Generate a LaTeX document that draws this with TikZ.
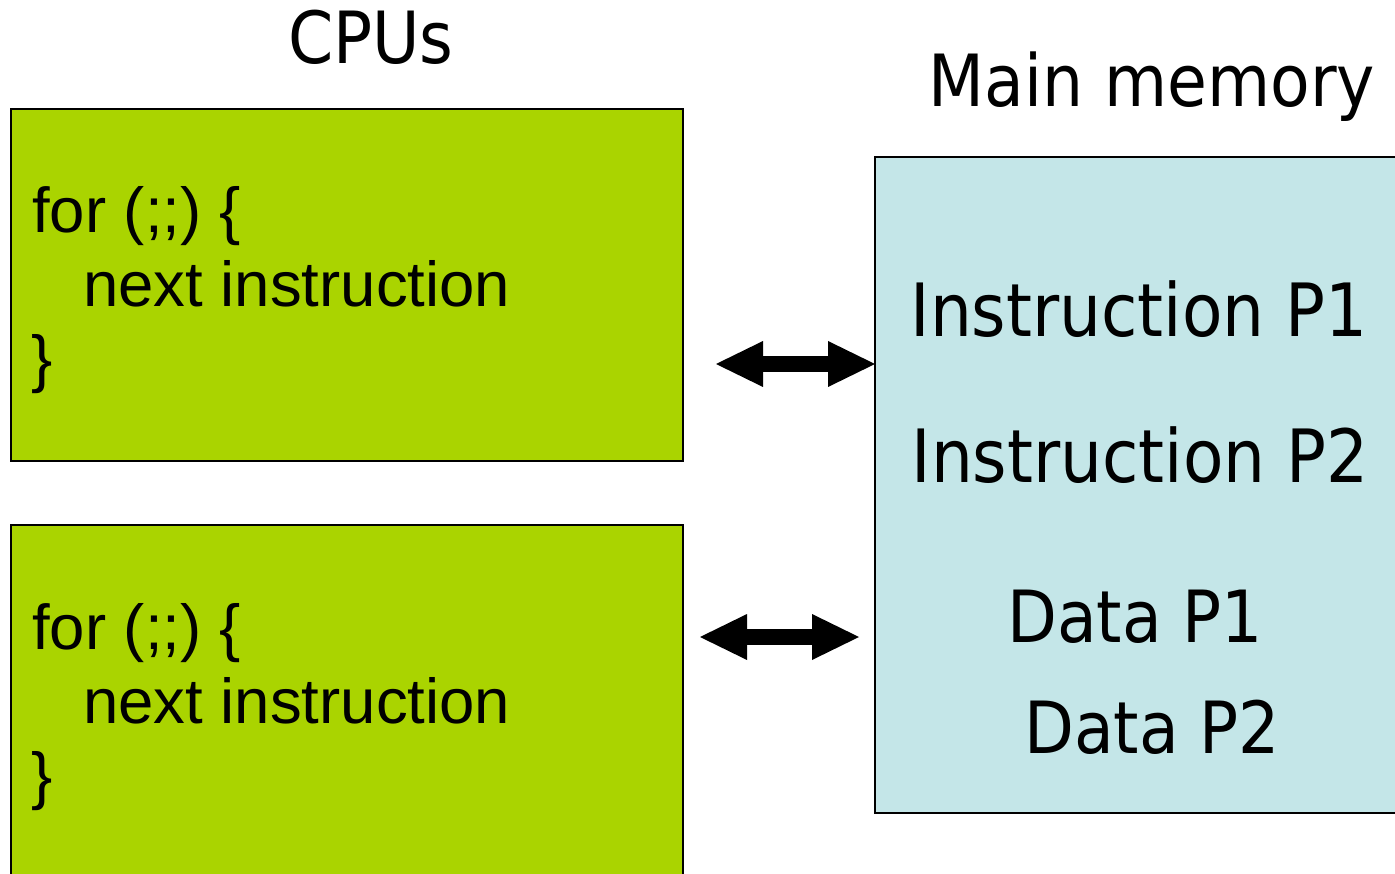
\documentclass[tikz,border=0pt]{standalone}
\usepackage{fontspec}
\usetikzlibrary{arrows.meta}
\newfontfamily\tah[FakeStretch=0.9]{DejaVu Sans}
\newfontfamily\ari{Liberation Sans}
\definecolor{cpugreen}{RGB}{170,212,0}
\definecolor{memblue}{RGB}{196,230,232}
\tikzset{
 box/.style={draw=black,line width=2pt,inner sep=0pt,outer sep=0pt},
 cpubox/.style={box,fill=cpugreen,minimum width=672pt},
 membox/.style={box,fill=memblue,minimum width=525pt,minimum height=656pt},
 title/.style={font=\tah\fontsize{72}{86}\selectfont,inner sep=0pt,anchor=base},
 memtext/.style={title,font=\tah\fontsize{73.5}{86}\selectfont},
 code/.style={font=\ari\fontsize{63.5}{74}\selectfont,inner sep=0pt,anchor=base west},
 bigtip/.tip={Triangle[length=47pt,width=46pt,line width=0pt]},
 bigarrow/.style={line width=16pt,bigtip-bigtip}
}
\begin{document}
\begin{tikzpicture}[x=1pt,y=-1pt]
\useasboundingbox (0,0) rectangle (1395,874);
\clip (0,0) rectangle (1395,874);
\fill[white] (0,0) rectangle (1395,874);
% boxes
\node[cpubox,minimum height=352pt] (cpu1) at (347,285) {};
\node[cpubox,minimum height=355pt] (cpu2) at (347,702.5) {};
\node[membox] (mem) at (1137.5,485) {};
% titles
\node[title] (cpus) at (371,64) {CPUs};
\node[title] (mm) at (1152,107) {Main memory};
% memory contents
\node[memtext] (ip1) at (1139,337) {Instruction P1};
\node[memtext] (ip2) at (1140,482) {Instruction P2};
\node[title] (dp1) at (1135,642) {Data P1};
\node[title] (dp2) at (1152,753) {Data P2};
% code in CPU 1
\node[code] (f1) at (32,233) {for (;;) \{};
\node[code] (n1) at (83,307) {next instruction};
\node[code] (c1) at (31,381) {\}};
% code in CPU 2
\node[code] (f2) at (32,649) {for (;;) \{};
\node[code] (n2) at (83,723) {next instruction};
\node[code] (c2) at (31,797) {\}};
% arrows
\coordinate (a1l) at (716,364);
\coordinate (a2l) at (700,637);
\coordinate (a2r) at (859,637);
\draw[bigarrow] (a1l) -- (a1l -| mem.west);
\draw[bigarrow] (a2l) -- (a2r);
\end{tikzpicture}
\end{document}
